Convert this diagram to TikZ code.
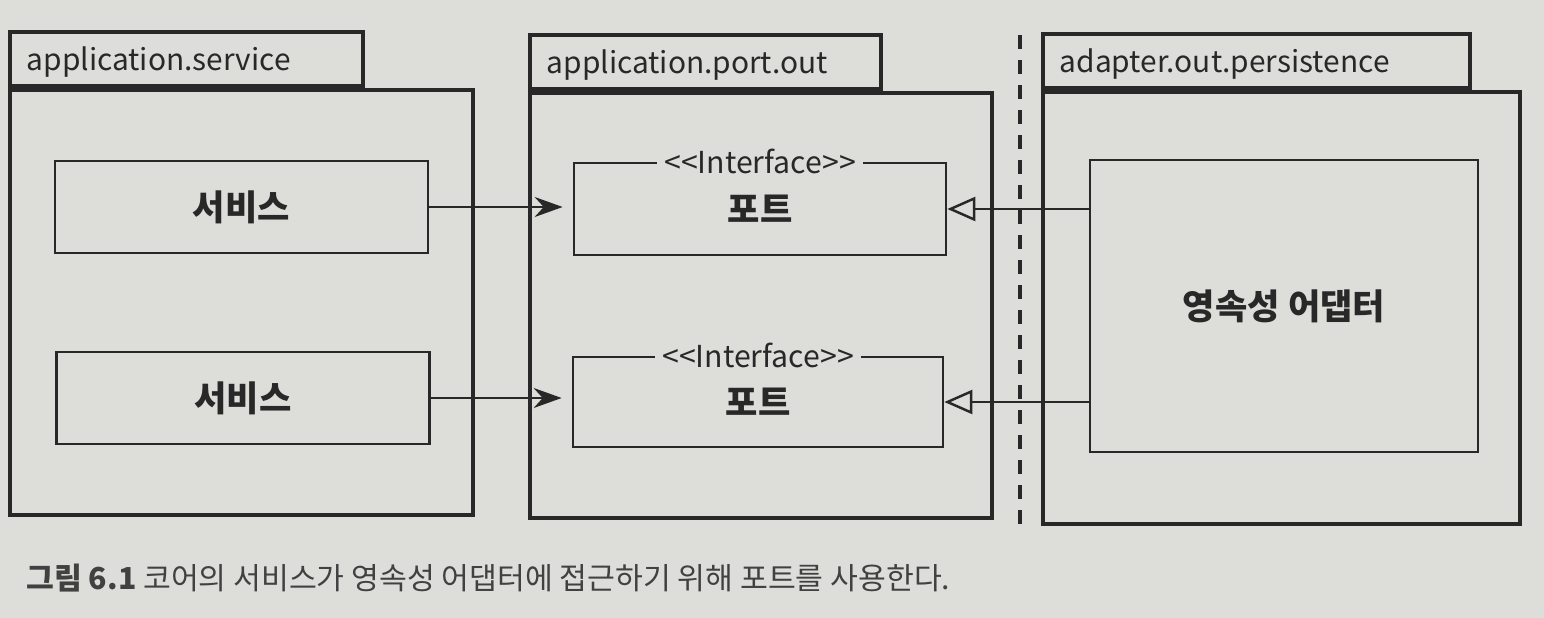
\documentclass[tikz,border=0pt]{standalone}
\usepackage{fontspec}
\setmainfont{Noto Sans CJK KR}
\usepackage{tikz}
\usetikzlibrary{arrows.meta,positioning}
\definecolor{paper}{RGB}{221,221,217}
\definecolor{ink}{RGB}{40,40,40}
\definecolor{capink}{RGB}{65,65,65}

\begin{document}
\begin{tikzpicture}[x=0.01cm, y=-0.01cm,
    pkg/.style={draw=ink, line width=1.1pt, fill=paper, inner sep=0pt},
    tab/.style={draw=ink, line width=1.1pt, fill=paper, anchor=south west, minimum height=0.54cm, minimum width=#1, inner sep=0pt},
    tabtext/.style={anchor=base west, xshift=0.18cm, yshift=0.17cm, inner sep=0pt, font=\fontsize{8.5}{10}\selectfont, text=ink},
    box/.style={draw=ink, line width=0.7pt, fill=paper, font=\bfseries\fontsize{10}{12}\selectfont, text=ink},
    iface/.style={fill=paper, inner xsep=0.07cm, inner ysep=0pt, font=\fontsize{8.6}{10}\selectfont, text=ink},
    arr/.style={draw=ink, line width=0.7pt, -{Stealth[length=2.8mm, width=2mm]}},
    realize/.style={draw=ink, line width=0.7pt, -{Triangle[open, length=2.8mm, width=2.4mm]}}
]
\useasboundingbox[fill=paper] (0,0) rectangle (1544,618);

% Package: application.service
\node[pkg, minimum width=4.63cm, minimum height=4.25cm] (svcpkg) at (241.5,302.5) {};
\node[tab=3.53cm] (svctab) at (svcpkg.north west) {};
\node[tabtext] (svcname) at (svctab.south west) {application.service};
\node[box, minimum width=3.73cm, minimum height=0.92cm] (svc1) at (241.5,207) {서비스};
\node[box, minimum width=3.73cm, minimum height=0.92cm] (svc2) at (243,398) {서비스};

% Package: application.port.out
\node[pkg, minimum width=4.62cm, minimum height=4.25cm] (portpkg) at (761,305.5) {};
\node[tab=3.51cm] (porttab) at (portpkg.north west) {};
\node[tabtext] (portname) at (porttab.south west) {application.port.out};
\node[box, minimum width=3.72cm, minimum height=0.92cm] (port1) at (760,209) {포트};
\node[box, minimum width=3.70cm, minimum height=0.90cm] (port2) at (758,402) {포트};
\node[iface] (iface1) at (port1.north) {<\kern0pt<Interface>\kern0pt>};
\node[iface] (iface2) at (port2.north) {<\kern0pt<Interface>\kern0pt>};

% Package: adapter.out.persistence
\node[pkg, minimum width=4.77cm, minimum height=4.32cm] (adppkg) at (1281.5,308) {};
\node[tab=4.27cm] (adptab) at (adppkg.north west) {};
\node[tabtext] (adpname) at (adptab.south west) {adapter.out.persistence};
\node[box, minimum width=3.88cm, minimum height=2.92cm] (adapter) at (1284,306) {영속성 어댑터};

% Boundary between core and adapter
\coordinate (divtop) at (1020,35);
\coordinate (divbot) at (1020,525);
\draw[draw=ink, line width=1.1pt, dash pattern=on 0.14cm off 0.11cm] (divtop) -- (divbot);

% Calls and implementations
\draw[arr, shorten >=0.1cm] (svc1.east) -- (svc1.east -| port1.west);
\draw[arr, shorten >=0.1cm] (svc2.east) -- (svc2.east -| port2.west);
\draw[realize] (adapter.west |- port1.east) -- (port1.east);
\draw[realize] (adapter.west |- port2.east) -- (port2.east);

% Caption
\node[anchor=west, font=\fontsize{8.6}{10}\selectfont, text=capink] (caption) at (14,578) {\textbf{그림 6.1} 코어의 서비스가 영속성 어댑터에 접근하기 위해 포트를 사용한다.};
\end{tikzpicture}
\end{document}
